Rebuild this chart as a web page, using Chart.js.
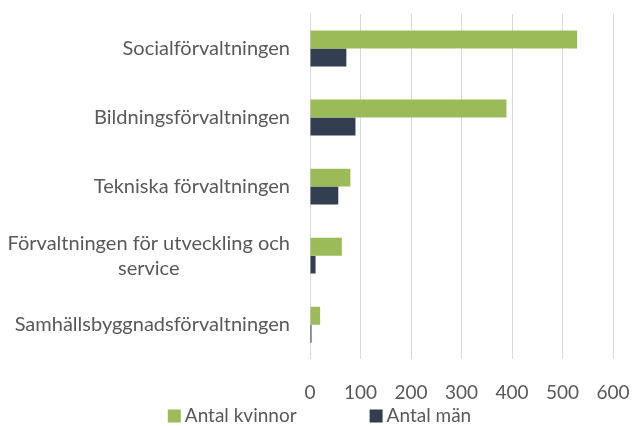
<!DOCTYPE html>
<html>
<head>
<meta charset="utf-8">
<script src="https://cdn.jsdelivr.net/npm/chart.js@4"></script>
<style>
html,body{margin:0;padding:0;background:#fff;}
#wrap{position:relative;width:639px;height:426px;}
</style>
</head>
<body>
<div id="wrap"><canvas id="c" width="639" height="426"></canvas></div>
<script>
const categories = [
  'Socialförvaltningen',
  'Bildningsförvaltningen',
  'Tekniska förvaltningen',
  ['Förvaltningen för utveckling och', 'service'],
  'Samhällsbyggnadsförvaltningen'
];
const seriesNames = ['Antal kvinnor', 'Antal män'];
const kvinnor = [529, 389, 80, 63, 20];
const man = [72, 90, 56, 11, 3];
const xTicks = [0, 100, 200, 300, 400, 500, 600];

const FONT = 'Lato';
const TXT = '#595959';

const customText = {
  id: 'customText',
  afterDraw(chart) {
    const ctx = chart.ctx;
    const ys = chart.scales.y;
    ctx.save();
    // category labels: right-aligned block, lines centred within block
    ctx.font = '20px ' + FONT;
    ctx.fillStyle = TXT;
    ctx.textBaseline = 'middle';
    ctx.textAlign = 'center';
    const lh = 25;
    chart.data.labels.forEach((lab, i) => {
      const lines = Array.isArray(lab) ? lab : [lab];
      const maxW = Math.max(...lines.map(l => ctx.measureText(l).width));
      const cx = ys.right - 20 - maxW / 2;
      const y0 = ys.getPixelForValue(i) - (lines.length - 1) * lh / 2;
      lines.forEach((l, j) => ctx.fillText(l, cx, y0 + j * lh));
    });
    // legend
    ctx.font = '19px ' + FONT;
    ctx.textAlign = 'left';
    const box = 13, gapBox = 4, gapItems = 73;
    const items = chart.data.datasets.map(d => ({text: d.label, color: d.backgroundColor, w: ctx.measureText(d.label).width}));
    const total = items.reduce((s, it) => s + box + gapBox + it.w, 0) + gapItems * (items.length - 1);
    let x = chart.width / 2 - total / 2;
    const yMid = 416;
    items.forEach(it => {
      ctx.fillStyle = it.color;
      ctx.fillRect(x, yMid - box / 2, box, box);
      ctx.fillStyle = TXT;
      ctx.fillText(it.text, x + box + gapBox, yMid);
      x += box + gapBox + it.w + gapItems;
    });
    ctx.restore();
  }
};

new Chart(document.getElementById('c'), {
  type: 'bar',
  data: {
    labels: categories,
    datasets: [
      {label: seriesNames[0], data: kvinnor, backgroundColor: '#9BBB59', borderColor: '#9BBB59', borderWidth: 0},
      {label: seriesNames[1], data: man, backgroundColor: '#333F50', borderColor: '#333F50', borderWidth: 0}
    ]
  },
  options: {
    indexAxis: 'y',
    responsive: false,
    animation: false,
    devicePixelRatio: 1,
    layout: {padding: {left: 0, right: 0, top: 14, bottom: 0}},
    datasets: {bar: {categoryPercentage: 0.52, barPercentage: 1.0}},
    plugins: {legend: {display: false}, tooltip: {enabled: false}},
    scales: {
      x: {
        min: 0, max: 600,
        afterBuildTicks: (s) => { s.ticks = xTicks.map(v => ({value: v})); },
        afterFit: (s) => { s.paddingRight = 26; },
        grid: {color: '#D9D9D9', lineWidth: 1, drawTicks: false},
        border: {display: false},
        ticks: {color: TXT, font: {family: FONT, size: 19}, padding: 22, maxRotation: 0}
      },
      y: {
        grid: {display: false, drawTicks: false},
        border: {display: false},
        ticks: {display: false},
        afterFit: (s) => { s.width = 310; }
      }
    }
  },
  plugins: [customText]
});
</script>
</body>
</html>
